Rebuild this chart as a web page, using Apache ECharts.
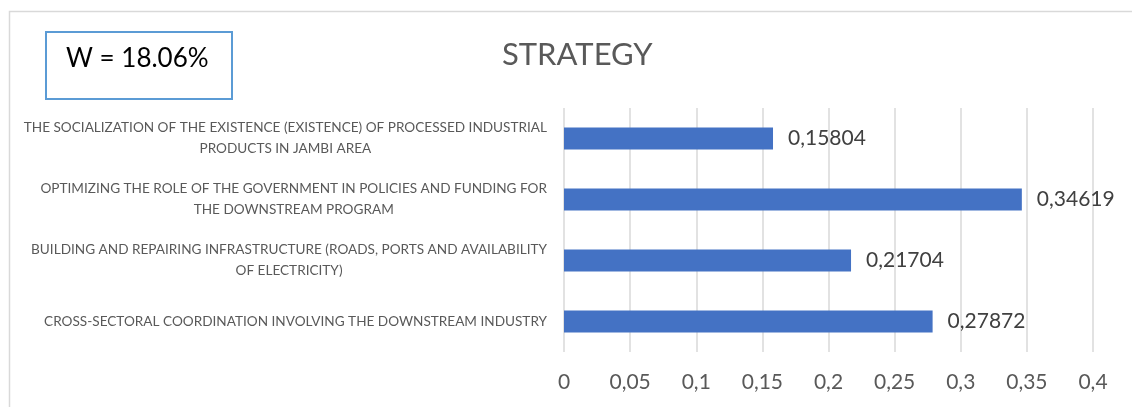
<!DOCTYPE html>
<html>
<head>
<meta charset="utf-8">
<script src="https://cdn.jsdelivr.net/npm/echarts@6/dist/echarts.min.js"></script>
<style>
  html, body { margin: 0; padding: 0; background: #fff; }
  #chart { width: 1132px; height: 407px; }
</style>
</head>
<body>
<div id="chart"></div>
<script>
const categories = [
    'THE SOCIALIZATION OF THE EXISTENCE (EXISTENCE) OF PROCESSED INDUSTRIAL\nPRODUCTS IN JAMBI AREA',
    'OPTIMIZING THE ROLE OF THE GOVERNMENT IN POLICIES AND FUNDING FOR\nTHE DOWNSTREAM PROGRAM',
    'BUILDING AND REPAIRING INFRASTRUCTURE (ROADS, PORTS AND AVAILABILITY\nOF ELECTRICITY)',
    'CROSS-SECTORAL COORDINATION INVOLVING THE DOWNSTREAM INDUSTRY'
];
const values = [0.15804, 0.34619, 0.21704, 0.27872];
const titleText = 'STRATEGY';
const weightText = 'W = 18.06%';

function coma(v) {
    return String(v).replace('.', ',');
}

const chart = echarts.init(document.getElementById('chart'));

chart.setOption({
    backgroundColor: '#fff',
    textStyle: { fontFamily: 'Lato' },
    title: {
        text: titleText,
        left: 497,
        top: 34,
        textStyle: { fontSize: 31, fontWeight: 'normal', color: '#595959', fontFamily: 'Lato' }
    },
    graphic: [
        {
            type: 'rect',
            left: 7, top: 9,
            shape: { width: 1140, height: 420 },
            style: { fill: 'none', stroke: '#d9d9d9', lineWidth: 1.5 }
        },
        {
            type: 'rect',
            left: 45, top: 31,
            shape: { width: 186, height: 67 },
            style: { fill: '#fff', stroke: '#5b9bd5', lineWidth: 2 }
        },
        {
            type: 'text',
            left: 66, top: 46,
            style: { text: weightText, fontSize: 26, fill: '#000', fontFamily: 'Lato' }
        }
    ],
    grid: { left: 564, right: 39, top: 108, bottom: 55 },
    xAxis: {
        type: 'value',
        min: 0,
        max: 0.4,
        interval: 0.05,
        axisLine: { show: false },
        axisTick: { show: false },
        splitLine: { lineStyle: { color: '#d9d9d9', width: 1.5 } },
        axisLabel: {
            margin: 20,
            fontSize: 21,
            color: '#595959',
            formatter: v => coma(+v.toFixed(2))
        }
    },
    yAxis: {
        type: 'category',
        inverse: true,
        data: categories,
        axisLine: { show: false },
        axisTick: { show: false },
        axisLabel: {
            margin: 17,
            fontSize: 13.6,
            lineHeight: 21,
            color: '#595959',
            formatter: v => v.split('\n').map(s => '{c|' + s + '}').join('\n'),
            rich: { c: { align: 'center', fontSize: 13.6, lineHeight: 21, color: '#595959' } }
        }
    },
    series: [
        {
            type: 'bar',
            data: values,
            barWidth: 22,
            itemStyle: { color: '#4472c4' },
            label: {
                show: true,
                position: 'right',
                distance: 15,
                fontSize: 21,
                color: '#404040',
                formatter: p => coma(p.value)
            }
        }
    ]
});
</script>
</body>
</html>
